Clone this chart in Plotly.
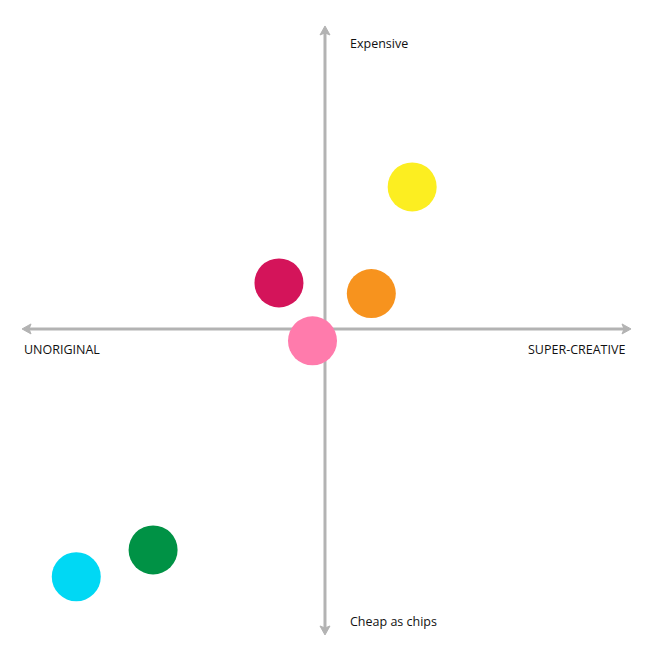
import plotly.graph_objects as go

# Data (creativity vs. cost, on a -10..10 scale)
names = ["Yellow", "Crimson", "Orange", "Pink", "Green", "Cyan"]
creativity = [2.86, -1.51, 1.52, -0.41, -5.64, -8.16]
cost = [4.66, 1.51, 1.16, -0.39, -7.25, -8.13]
colors = ["#FCEE21", "#D4145A", "#F7931E", "#FF7BAC", "#009245", "#00D8F4"]

axis_labels = {"top": "Expensive", "bottom": "Cheap as chips",
               "left": "UNORIGINAL", "right": "SUPER-CREATIVE"}
GREY = "#B3B3B3"

fig = go.Figure()
fig.add_trace(go.Scatter(
    x=creativity, y=cost, mode="markers", text=names,
    marker=dict(size=49, color=colors, line=dict(width=0), opacity=1),
    hoverinfo="text", showlegend=False,
))

shorten = 0.23
shapes = [
    dict(type="line", xref="x", yref="y", x0=-9.94 + shorten, x1=10.04 - shorten, y0=0, y1=0,
         line=dict(color=GREY, width=3), layer="below"),
    dict(type="line", xref="x", yref="y", x0=0, x1=0, y0=-10.04 + shorten, y1=9.94 - shorten,
         line=dict(color=GREY, width=3), layer="below"),
]
heads = [
    (-9.94, 0, "M0,0 L9,5 L7,0 L9,-5 Z"),
    (10.04, 0, "M0,0 L-9,5 L-7,0 L-9,-5 Z"),
    (0, 9.94, "M0,0 L-5,-9 L0,-7 L5,-9 Z"),
    (0, -10.04, "M0,0 L-5,9 L0,7 L5,9 Z"),
]
for xa, ya, p in heads:
    shapes.append(dict(type="path", xref="x", yref="y", xsizemode="pixel", ysizemode="pixel",
                       xanchor=xa, yanchor=ya, path=p, fillcolor=GREY,
                       line=dict(color=GREY, width=1), layer="below"))

font = dict(family="Open Sans, Lato, sans-serif", size=12.5, color="#111111")
annotations = [
    dict(x=0.76, y=9.35, text=axis_labels["top"], xanchor="left", yanchor="middle"),
    dict(x=0.76, y=-9.61, text=axis_labels["bottom"], xanchor="left", yanchor="middle"),
    dict(x=-9.95, y=-0.66, text=axis_labels["left"], xanchor="left", yanchor="middle"),
    dict(x=9.92, y=-0.66, text=axis_labels["right"], xanchor="right", yanchor="middle"),
]
for a in annotations:
    a.update(xref="x", yref="y", showarrow=False, font=font)

fig.update_layout(
    width=641, height=648,
    margin=dict(l=0, r=0, t=0, b=0),
    paper_bgcolor="white", plot_bgcolor="white",
    xaxis=dict(range=[-10.40, 10.63], visible=False, fixedrange=True),
    yaxis=dict(range=[-10.73, 10.53], visible=False, fixedrange=True),
    shapes=shapes, annotations=annotations,
)

fig.write_html("out.html")
